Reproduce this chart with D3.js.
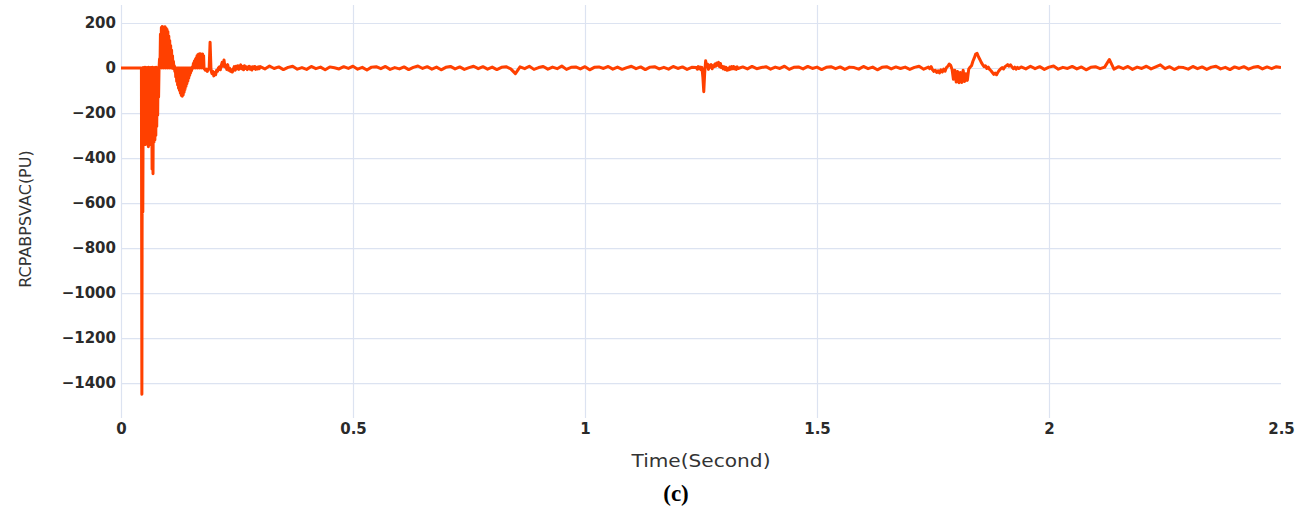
<!DOCTYPE html>
<html>
<head>
<meta charset="utf-8">
<script src="https://cdn.jsdelivr.net/npm/d3@7"></script>
<style>
  html, body { margin: 0; padding: 0; background: #ffffff; }
  svg { display: block; }
</style>
</head>
<body>
<svg id="chart" width="1311" height="511"></svg>
<script>
// Axis ticks
const xTicks = [0, 0.5, 1, 1.5, 2, 2.5];
const yTicks = [200, 0, -200, -400, -600, -800, -1000, -1200, -1400];

// RCPABPSVAC(PU) samples, stored as segments: start time (s), step (s), values
const preFaultStart = 0, preFaultStep = 0.011;
const preFaultValues = [0, 0, 0, 0, 0];

const faultStart = 0.044, faultStep = 0.001;
const faultValues = [
  0, -1450, 0, -640, 2, -330, 0, -320, 3, -340,
  0, -310, 2, -330, 0, -350, 3, -320, 0, -340,
  2, -310, 0, -450, 3, -470, 0, -330, 2, -320,
  0, -300, 3, -260, 0, -210, 2, -130, 0, 40,
  0, 150, 2, 180, 0, 185, 3, 182, 0, 180,
  2, 183, 0, 178, 3, 172, 0, 162, 2, 142,
  0, 122, 2, 100, 0, 80, 0, 55, -2, 30,
  0, 10, -15, 0, -40, 0, -60, 0, -75, 0,
  -90, 0, -100, 0, -112, 0, -122, 0, -125, 0,
  -120, 0, -108, 0, -95, 0, -82, 0, -70, 0,
  -58, 0, -45, 0, -33, 0, -22, 0, -12, 0,
  5, 0, 20, 0, 30, 2, 38, 0, 45, 3,
  55, 0, 60, 2, 62, 0, 63, 3, 62, 0,
  60, 2, 62, 0, 55, 0, -5
];

const settleStart = 0.182, settleStep = 0.002;
const settleValues = [
  -10, -5, -15, -5, 0, 115, -10, -25, -15, -35,
  -20, -30, -10, -15, 0, 5, -8, 10, 25, 8,
  36, 5, 12, -6, 15, -10, 0, -15, -8, -18,
  -5, 6, -10, 8, -4, 10, -6, 4, 14, -3,
  6, -8, 10, -2, 5, -7, 3, 8, -5, 4,
  -9, 6, -2, 7, -6, 3, -4, 5, -3
];

const ambientAStart = 0.30, ambientAStep = 0.01;
const ambientAValues = [
  6, -4, 9, -2, 5, -7, 3, 8, -5, 2,
  -6, 7, -3, 4, -8, 5, 1, -4, 6, -2,
  8, -5, 3, -9, 4, 6, -3, 7, -6, 2,
  -4, 5, -7, 3, 9, -2, 6, -5, 4, -8,
  3, 7, -4, 5, -6, 2, 8, -3, 6, -5,
  4, -7, 3, 6, -4, -25, 5, -3, 8, -6,
  2, 7, -5, 4, -3, 9, -6, 3, 5, -4,
  6, -8, 3, 5, -2, 7, -5, 4, -6, 2,
  8, -3, 5, -7, 4, 6, -4, 3, -5, 7,
  -2, 5, -6, 3
];

const eventAStart = 1.240, eventAStep = 0.002;
const eventAValues = [
  2, -5, 6, -3, 4, -8, 3, -40, -105, -20,
  32, 10, 18, -6, 12, 4, 15, -3, 10, 6,
  18, 8, 22, 12, 25, 6, 20, 2, 8, -4,
  5, -7, 3, -10, -2, -8, 4, -5, 6, -3,
  7, -4, 3, -6, 5, -2
];

const ambientBStart = 1.34, ambientBStep = 0.01;
const ambientBValues = [
  5, -4, 7, -3, 2, 6, -5, 4, -2, 8,
  -6, 3, 5, -4, 7, -2, 4, -7, 3, 6,
  -3, 5, -6, 4, 2, -5, 7, -3, 4, -8,
  3, 6, -4, 5, -2, 4, -6, 3, 8, -5
];

const eventBStart = 1.740, eventBStep = 0.003;
const eventBValues = [
  4, -3, 6, -8, -15, -10, -20, -12, -22, -8,
  -18, -5, -14, 2, 8, 18, 12, -5, -50, -10,
  -62, -15, -65, -20, -64, -10, -60, -25, -55, -5,
  4, 10, 30, 45, 62, 65, 50, 38, 25, 15,
  6, 10, -2, 4, -6, -12, -20, -28, -22, -30,
  -18, -10, -3, 2, -4, 6, 10, 15, 8, 14,
  5, -3, 4, -5, 3, -2
];

const ambientCStart = 1.94, ambientCStep = 0.01;
const ambientCValues = [
  5, -4, 8, -3, 6, -6, 4, 9, -5, 3,
  -2, 7, -4, 5, -8, 3, 6, -3, 4, 38,
  -5, 6, -3, 7, -6, 4, -2, 8, -4, 5,
  14, -3, 6, -7, 4, 2, -5, 7, -3, 5,
  -6, 4, 8, -4, 3, -7, 5, -2, 6, -5,
  3, 7, -4, 5, -3, 6, 2
];

const segments = [
  [preFaultStart, preFaultStep, preFaultValues],
  [faultStart, faultStep, faultValues],
  [settleStart, settleStep, settleValues],
  [ambientAStart, ambientAStep, ambientAValues],
  [eventAStart, eventAStep, eventAValues],
  [ambientBStart, ambientBStep, ambientBValues],
  [eventBStart, eventBStep, eventBValues],
  [ambientCStart, ambientCStep, ambientCValues]
];

const series = [];
segments.forEach(([start, step, values]) => {
  values.forEach((v, i) => series.push({ t: +(start + i * step).toFixed(4), v }));
});
series.sort((a, b) => a.t - b.t);

// Layout
const svg = d3.select("#chart");
const plotLeft = 121, plotRight = 1281, plotTop = 5, plotBottom = 418;

const x = d3.scaleLinear().domain([0, 2.5]).range([plotLeft, plotRight]);
const y = d3.scaleLinear().domain([-1555, 280]).range([plotBottom, plotTop]);

const gridColor = "#dce3f1";
const tickFont = "'DejaVu Sans', Verdana, sans-serif";

// Horizontal grid + y tick labels
const yAxis = svg.append("g")
  .attr("transform", `translate(${plotLeft},0)`)
  .call(d3.axisLeft(y).tickValues(yTicks).tickSize(-(plotRight - plotLeft)).tickPadding(5)
    .tickFormat(d3.format("d")));
yAxis.select(".domain").remove();
yAxis.selectAll(".tick line").attr("stroke", gridColor).attr("stroke-width", 1.2);
yAxis.selectAll(".tick text")
  .attr("font-family", tickFont).attr("font-size", 15).attr("font-weight", 700)
  .attr("fill", "#2a2a2a")
  .text(d => d < 0 ? "\u2212" + Math.abs(d) : String(d));

// Vertical grid + x tick labels
const xAxis = svg.append("g")
  .attr("transform", `translate(0,${plotBottom})`)
  .call(d3.axisBottom(x).tickValues(xTicks).tickSize(-(plotBottom - plotTop)).tickPadding(5)
    .tickFormat(d3.format("")));
xAxis.select(".domain").remove();
xAxis.selectAll(".tick line")
  .attr("stroke", gridColor).attr("stroke-width", 1.2)
  .attr("opacity", d => d === 2.5 ? 0 : 1);
xAxis.selectAll(".tick text")
  .attr("font-family", tickFont).attr("font-size", 15).attr("font-weight", 700)
  .attr("fill", "#2a2a2a");

// Trace
svg.append("clipPath").attr("id", "plotClip")
  .append("rect").attr("x", plotLeft).attr("y", plotTop)
  .attr("width", plotRight - plotLeft).attr("height", plotBottom - plotTop);

const line = d3.line().x(d => x(d.t)).y(d => y(d.v));
svg.append("path")
  .datum(series)
  .attr("clip-path", "url(#plotClip)")
  .attr("fill", "none")
  .attr("stroke", "#ff4000")
  .attr("stroke-width", 3)
  .attr("stroke-linejoin", "round")
  .attr("d", line);

// Axis titles
svg.append("text")
  .attr("x", (plotLeft + plotRight) / 2).attr("y", 467)
  .attr("text-anchor", "middle")
  .attr("font-family", tickFont).attr("font-size", 18)
  .attr("textLength", 139).attr("lengthAdjust", "spacingAndGlyphs")
  .attr("fill", "#333333")
  .text("Time(Second)");

svg.append("text")
  .attr("transform", `translate(31,219) rotate(-90)`)
  .attr("text-anchor", "middle")
  .attr("font-family", tickFont).attr("font-size", 16)
  .attr("fill", "#333333")
  .text("RCPABPSVAC(PU)");

svg.append("text")
  .attr("x", 676).attr("y", 501)
  .attr("text-anchor", "middle")
  .attr("font-family", "'Liberation Serif', 'Times New Roman', serif")
  .attr("font-size", 23).attr("font-weight", 700)
  .attr("fill", "#000000")
  .text("(c)");
</script>
</body>
</html>
